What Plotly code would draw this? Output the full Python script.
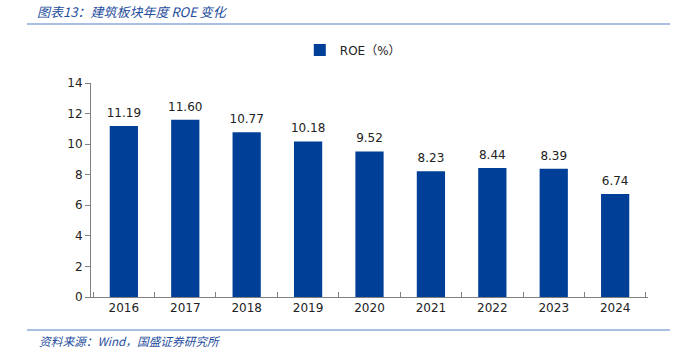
import plotly.graph_objects as go

years = ["2016", "2017", "2018", "2019", "2020", "2021", "2022", "2023", "2024"]
roe = [11.19, 11.60, 10.77, 10.18, 9.52, 8.23, 8.44, 8.39, 6.74]
labels = ["11.19", "11.60", "10.77", "10.18", "9.52", "8.23", "8.44", "8.39", "6.74"]

W, H = 675, 361
L, R, T, B = 91, 27, 83, 64
pw = W - L - R
ph = H - T - B

def px(x):
    return (x - L) / pw

def py(y):
    return (H - B - y) / ph

fig = go.Figure()
fig.add_trace(go.Bar(
    x=years, y=roe, name="ROE（%）",
    marker=dict(color="#003f98", line=dict(width=0)),
    width=0.46,
))
fig.add_trace(go.Scatter(
    x=years, y=roe, mode="markers+text", text=labels, textposition="top center",
    marker=dict(size=8, opacity=0), showlegend=False, hoverinfo="skip", cliponaxis=False,
    textfont=dict(family="DejaVu Sans", size=12, color="#222222"),
))

fig.update_layout(
    width=W, height=H,
    margin=dict(l=L, r=R, t=T, b=B),
    plot_bgcolor="white", paper_bgcolor="white",
    font=dict(family="DejaVu Sans", size=12, color="#222222"),
    showlegend=True,
    legend=dict(orientation="h", x=0.47, xanchor="center", y=py(50), yanchor="middle",
                font=dict(family="DejaVu Sans, Noto Sans CJK SC", size=12, color="#222222"),
                itemwidth=30),
    title=dict(text="<i>图表13：建筑板块年度 ROE 变化</i>", xref="container", yref="container",
               x=37 / W, xanchor="left", y=1 - 12 / H, yanchor="middle",
               font=dict(family="Noto Sans CJK SC", size=13, color="#1f4e9d")),
)

fig.update_xaxes(
    type="category",
    showline=True, linecolor="#808080", linewidth=1,
    ticks="inside", tickson="boundaries", ticklen=5, tickcolor="#808080",
    showgrid=False, automargin=False, tickangle=0,
)
fig.update_yaxes(
    range=[0, 14], dtick=2, showline=True, linecolor="#808080", linewidth=1,
    ticks="outside", ticklen=5, tickcolor="#808080", showgrid=False, zeroline=False,
    automargin=False,
)

fig.add_annotation(
    text="<i>资料来源：Wind，国盛证券研究所</i>", xref="paper", yref="paper",
    x=px(37), y=py(340), xanchor="left", yanchor="middle", showarrow=False,
    font=dict(family="Noto Sans CJK SC", size=11.7, color="#1f4e9d"),
)

for yy in (24, 330):
    fig.add_shape(type="line", xref="paper", yref="paper",
                  x0=px(27), x1=px(670), y0=py(yy), y1=py(yy),
                  line=dict(color="#8eaadb", width=1.5))

fig.write_html("out.html", config={"displayModeBar": False},
               post_script="document.body.style.margin='0';")
